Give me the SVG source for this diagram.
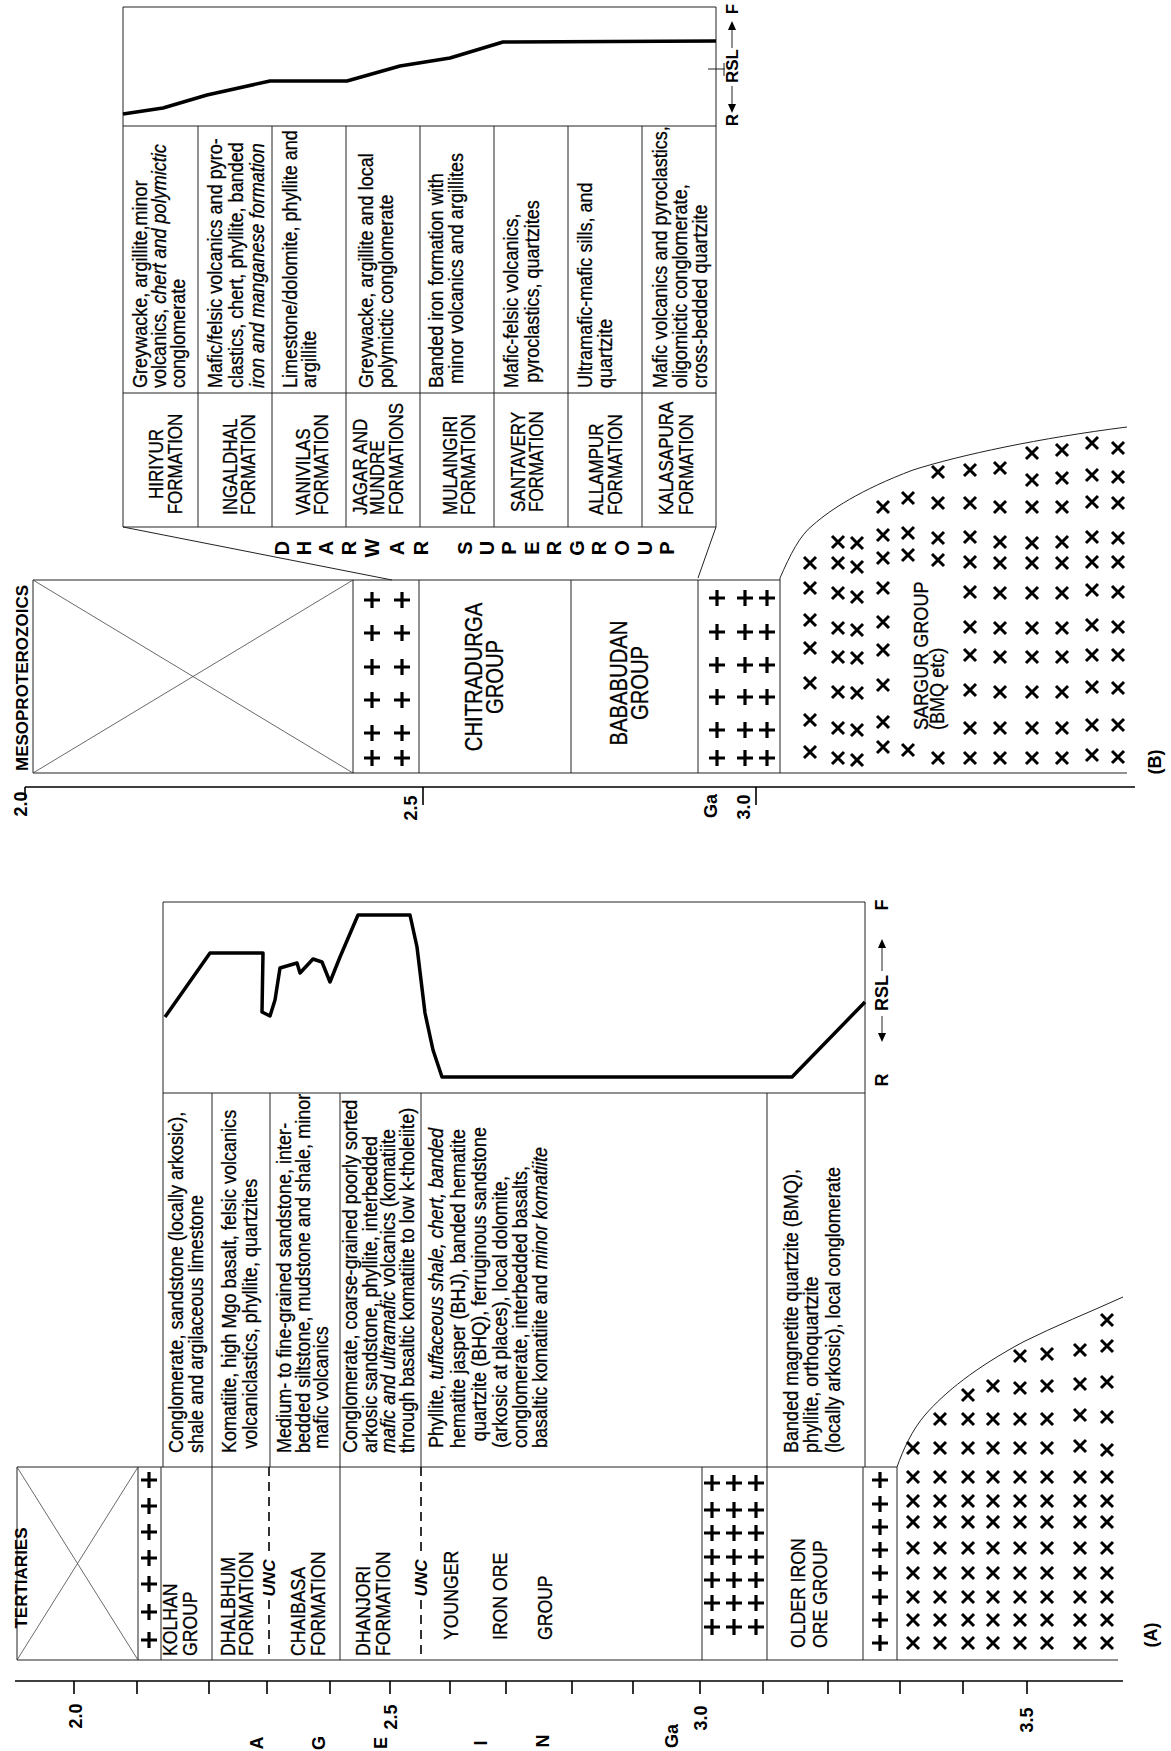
<svg xmlns="http://www.w3.org/2000/svg" width="1171" height="1751" viewBox="0 0 1171 1751">
<style>
text{font-family:"Liberation Sans",Arial,sans-serif;fill:#000}
.d{font-size:21px;stroke:#000;stroke-width:0.3}
.g{font-size:23px;stroke:#000;stroke-width:0.3}
.b{font-weight:bold;font-size:17px}
.bl{font-weight:bold;font-size:18px}
.sg{font-weight:bold;font-size:20px}
.ln{stroke:#222;stroke-width:1;fill:none}
.thin{stroke:#444;stroke-width:0.8;fill:none}
.ax{stroke:#000;stroke-width:1.6;fill:none}
.rsl{stroke:#000;stroke-width:3.5;fill:none;stroke-linejoin:round}
.dash{stroke:#000;stroke-width:1.6;stroke-dasharray:9 6;fill:none}
</style>
<defs>
<path id="p" d="M-8,0H8M0,-8V8" stroke="#000" stroke-width="3.2"/>
<path id="x" d="M-6,-6L6,6M-6,6L6,-6" stroke="#000" stroke-width="3"/>
</defs>
<rect width="1171" height="1751" fill="#fff"/>

<!-- ================= PANEL B ================= -->
<g id="panelB">
<g id="B-table-lines">
<path class="ln" d="M123,7H716M123,126H716M123,393H716M123,527H716M123,7V527M716,7V527"/>
<path class="ln" d="M198,126V527M272,126V527M346,126V527M420,126V527M494,126V527M568,126V527M642,126V527"/>
</g>
<g id="B-rsl">
<path class="rsl" d="M123,114L163,108L207,95L270,81L347,81L400,66L450,58L503,42L716,41"/>
<path class="ln" d="M708,69H725M724,63V76"/>
<text class="b" transform="translate(738,120) rotate(-90)" text-anchor="middle" font-size="16">R</text>
<polygon points="728,104 736,104 732,113"/>
<path class="ln" d="M732,104V86"/>
<text class="b" transform="translate(738,66) rotate(-90)" text-anchor="middle" font-size="16">RSL</text>
<path class="ln" d="M732,48V30"/>
<polygon points="728,30 736,30 732,21"/>
<text class="b" transform="translate(738,9) rotate(-90)" text-anchor="middle" font-size="16">F</text>
</g>
<g id="B-desc">
<text class="d" transform="translate(147,388) rotate(-90) scale(.86,1)"><tspan x="0" y="0">Greywacke, argillite,minor</tspan><tspan x="0" y="19.5">volcanics, <tspan font-style="italic">chert and polymictic</tspan></tspan><tspan x="0" y="38.5">conglomerate</tspan></text>
<text class="d" transform="translate(222,388) rotate(-90) scale(.86,1)"><tspan x="0" y="0">Mafic/felsic volcanics and pyro-</tspan><tspan x="0" y="21">clastics, chert, phyllite, banded</tspan><tspan x="0" y="42" font-style="italic">iron and manganese formation</tspan></text>
<text class="d" transform="translate(297,388) rotate(-90) scale(.86,1)"><tspan x="0" y="0">Limestone/dolomite, phyllite and</tspan><tspan x="0" y="19.5">argillite</tspan></text>
<text class="d" transform="translate(373,388) rotate(-90) scale(.86,1)"><tspan x="0" y="0">Greywacke, argillite and local</tspan><tspan x="0" y="20">polymictic conglomerate</tspan></text>
<text class="d" transform="translate(443,388) rotate(-90) scale(.86,1)"><tspan x="0" y="0">Banded iron formation with</tspan><tspan x="5" y="20">minor volcanics and argillites</tspan></text>
<text class="d" transform="translate(518,388) rotate(-90) scale(.86,1)"><tspan x="0" y="0">Mafic-felsic volcanics,</tspan><tspan x="6" y="21">pyroclastics, quartzites</tspan></text>
<text class="d" transform="translate(592,388) rotate(-90) scale(.86,1)"><tspan x="0" y="0">Ultramafic-mafic sills, and</tspan><tspan x="0" y="20">quartzite</tspan></text>
<text class="d" transform="translate(667,388) rotate(-90) scale(.86,1)"><tspan x="0" y="0">Mafic volcanics and pyroclastics,</tspan><tspan x="0" y="20.5">oligomictic conglomerate,</tspan><tspan x="0" y="40">cross-bedded quartzite</tspan></text>
</g>
<g id="B-names">
<text class="d" transform="translate(163,464) rotate(-90) scale(.81,1)" text-anchor="middle"><tspan x="0" y="0">HIRIYUR</tspan><tspan x="0" y="19">FORMATION</tspan></text>
<text class="d" transform="translate(237,515) rotate(-90) scale(.81,1)"><tspan x="0" y="0">INGALDHAL</tspan><tspan x="0" y="18">FORMATION</tspan></text>
<text class="d" transform="translate(310,515) rotate(-90) scale(.81,1)"><tspan x="0" y="0">VANIVILAS</tspan><tspan x="0" y="18">FORMATION</tspan></text>
<text class="d" transform="translate(367,515) rotate(-90) scale(.81,1)"><tspan x="0" y="0">JAGAR AND</tspan><tspan x="0" y="17">MUNDRE</tspan><tspan x="0" y="36">FORMATIONS</tspan></text>
<text class="d" transform="translate(457,515) rotate(-90) scale(.81,1)"><tspan x="0" y="0">MULAINGIRI</tspan><tspan x="0" y="18">FORMATION</tspan></text>
<text class="d" transform="translate(525,512) rotate(-90) scale(.81,1)"><tspan x="0" y="0">SANTAVERY</tspan><tspan x="0" y="18">FORMATION</tspan></text>
<text class="d" transform="translate(603,515) rotate(-90) scale(.81,1)"><tspan x="0" y="0">ALLAMPUR</tspan><tspan x="0" y="19">FORMATION</tspan></text>
<text class="d" transform="translate(673,515) rotate(-90) scale(.81,1)"><tspan x="0" y="0">KALASAPURA</tspan><tspan x="0" y="20">FORMATION</tspan></text>
</g>
<g id="B-supergroup">
<text class="sg" transform="translate(289,548) rotate(-90)" text-anchor="middle">D</text>
<text class="sg" transform="translate(311,548) rotate(-90)" text-anchor="middle">H</text>
<text class="sg" transform="translate(333,548) rotate(-90)" text-anchor="middle">A</text>
<text class="sg" transform="translate(356,548) rotate(-90)" text-anchor="middle">R</text>
<text class="sg" transform="translate(379,548) rotate(-90)" text-anchor="middle">W</text>
<text class="sg" transform="translate(404,548) rotate(-90)" text-anchor="middle">A</text>
<text class="sg" transform="translate(428,548) rotate(-90)" text-anchor="middle">R</text>
<text class="sg" transform="translate(472,548) rotate(-90)" text-anchor="middle">S</text>
<text class="sg" transform="translate(494,548) rotate(-90)" text-anchor="middle">U</text>
<text class="sg" transform="translate(516,548) rotate(-90)" text-anchor="middle">P</text>
<text class="sg" transform="translate(539,548) rotate(-90)" text-anchor="middle">E</text>
<text class="sg" transform="translate(561,548) rotate(-90)" text-anchor="middle">R</text>
<text class="sg" transform="translate(584,548) rotate(-90)" text-anchor="middle">G</text>
<text class="sg" transform="translate(606,548) rotate(-90)" text-anchor="middle">R</text>
<text class="sg" transform="translate(629,548) rotate(-90)" text-anchor="middle">O</text>
<text class="sg" transform="translate(652,548) rotate(-90)" text-anchor="middle">U</text>
<text class="sg" transform="translate(674,548) rotate(-90)" text-anchor="middle">P</text>
</g>
<g id="B-connectors">
<path class="ln" d="M123,527L392,580M716,527L698,578"/>
</g>
<g id="B-groups">
<path class="ln" d="M33,580H780M33,773H1127M33,580V773M353,580V773M419,580V773M571,580V773M698,580V773M780,578V773"/>
<path class="thin" d="M33,580L353,773M33,773L353,580"/>
<path class="ln" d="M780,578C790,555 800,535 813,525C830,510 860,490 913,470C960,455 1040,438 1127,427"/>
<text class="b" transform="translate(28,678) rotate(-90)" text-anchor="middle">MESOPROTEROZOICS</text>
<text class="g" transform="translate(482,677) rotate(-90) scale(.88,1)" text-anchor="middle"><tspan x="0" y="0">CHITRADURGA</tspan><tspan x="0" y="21">GROUP</tspan></text>
<text class="g" transform="translate(627,683) rotate(-90) scale(.88,1)" text-anchor="middle"><tspan x="0" y="0">BABABUDAN</tspan><tspan x="0" y="21">GROUP</tspan></text>
<text class="d" transform="translate(928,730) rotate(-90) scale(.86,1)"><tspan x="0" y="0">SARGUR GROUP</tspan><tspan x="0" y="16">(BMQ etc)</tspan></text>
</g>
<g id="B-plus">
<use href="#p" x="372" y="600"/><use href="#p" x="402" y="600"/>
<use href="#p" x="372" y="633"/><use href="#p" x="402" y="633"/>
<use href="#p" x="372" y="667"/><use href="#p" x="402" y="667"/>
<use href="#p" x="372" y="700"/><use href="#p" x="402" y="700"/>
<use href="#p" x="372" y="733"/><use href="#p" x="402" y="733"/>
<use href="#p" x="372" y="758"/><use href="#p" x="402" y="758"/>
<use href="#p" x="717" y="598"/><use href="#p" x="745" y="598"/><use href="#p" x="767" y="598"/>
<use href="#p" x="717" y="632"/><use href="#p" x="745" y="632"/><use href="#p" x="767" y="632"/>
<use href="#p" x="717" y="665"/><use href="#p" x="745" y="665"/><use href="#p" x="767" y="665"/>
<use href="#p" x="717" y="697"/><use href="#p" x="745" y="697"/><use href="#p" x="767" y="697"/>
<use href="#p" x="717" y="730"/><use href="#p" x="745" y="730"/><use href="#p" x="767" y="730"/>
<use href="#p" x="717" y="758"/><use href="#p" x="745" y="758"/><use href="#p" x="767" y="758"/>
</g>
<g id="B-cross">
<use href="#x" x="810" y="563"/><use href="#x" x="810" y="588"/><use href="#x" x="810" y="620"/><use href="#x" x="810" y="648"/><use href="#x" x="810" y="683"/><use href="#x" x="810" y="720"/><use href="#x" x="810" y="752"/>
<use href="#x" x="838" y="542"/><use href="#x" x="838" y="563"/><use href="#x" x="838" y="593"/><use href="#x" x="838" y="628"/><use href="#x" x="838" y="657"/><use href="#x" x="838" y="692"/><use href="#x" x="838" y="728"/><use href="#x" x="838" y="758"/>
<use href="#x" x="857" y="543"/><use href="#x" x="857" y="567"/><use href="#x" x="857" y="597"/><use href="#x" x="857" y="630"/><use href="#x" x="857" y="658"/><use href="#x" x="857" y="693"/><use href="#x" x="857" y="730"/><use href="#x" x="857" y="760"/>
<use href="#x" x="883" y="507"/><use href="#x" x="883" y="535"/><use href="#x" x="883" y="558"/><use href="#x" x="883" y="588"/><use href="#x" x="883" y="622"/><use href="#x" x="883" y="650"/><use href="#x" x="883" y="685"/><use href="#x" x="883" y="722"/><use href="#x" x="883" y="747"/>
<use href="#x" x="908" y="498"/><use href="#x" x="908" y="533"/><use href="#x" x="908" y="555"/><use href="#x" x="908" y="750"/>
<use href="#x" x="938" y="472"/><use href="#x" x="938" y="503"/><use href="#x" x="938" y="538"/><use href="#x" x="938" y="560"/><use href="#x" x="938" y="758"/>
<use href="#x" x="970" y="470"/><use href="#x" x="970" y="503"/><use href="#x" x="970" y="537"/><use href="#x" x="970" y="562"/><use href="#x" x="970" y="592"/><use href="#x" x="970" y="627"/><use href="#x" x="970" y="655"/><use href="#x" x="970" y="690"/><use href="#x" x="970" y="728"/><use href="#x" x="970" y="758"/>
<use href="#x" x="1000" y="468"/><use href="#x" x="1000" y="507"/><use href="#x" x="1000" y="542"/><use href="#x" x="1000" y="563"/><use href="#x" x="1000" y="593"/><use href="#x" x="1000" y="628"/><use href="#x" x="1000" y="657"/><use href="#x" x="1000" y="692"/><use href="#x" x="1000" y="728"/><use href="#x" x="1000" y="758"/>
<use href="#x" x="1032" y="453"/><use href="#x" x="1032" y="480"/><use href="#x" x="1032" y="507"/><use href="#x" x="1032" y="543"/><use href="#x" x="1032" y="563"/><use href="#x" x="1032" y="593"/><use href="#x" x="1032" y="628"/><use href="#x" x="1032" y="657"/><use href="#x" x="1032" y="692"/><use href="#x" x="1032" y="728"/><use href="#x" x="1032" y="758"/>
<use href="#x" x="1062" y="450"/><use href="#x" x="1062" y="478"/><use href="#x" x="1062" y="507"/><use href="#x" x="1062" y="542"/><use href="#x" x="1062" y="563"/><use href="#x" x="1062" y="593"/><use href="#x" x="1062" y="628"/><use href="#x" x="1062" y="657"/><use href="#x" x="1062" y="692"/><use href="#x" x="1062" y="728"/><use href="#x" x="1062" y="758"/>
<use href="#x" x="1092" y="443"/><use href="#x" x="1092" y="475"/><use href="#x" x="1092" y="502"/><use href="#x" x="1092" y="537"/><use href="#x" x="1092" y="562"/><use href="#x" x="1092" y="590"/><use href="#x" x="1092" y="625"/><use href="#x" x="1092" y="655"/><use href="#x" x="1092" y="687"/><use href="#x" x="1092" y="725"/><use href="#x" x="1092" y="755"/>
<use href="#x" x="1118" y="448"/><use href="#x" x="1118" y="477"/><use href="#x" x="1118" y="503"/><use href="#x" x="1118" y="538"/><use href="#x" x="1118" y="562"/><use href="#x" x="1118" y="592"/><use href="#x" x="1118" y="627"/><use href="#x" x="1118" y="655"/><use href="#x" x="1118" y="688"/><use href="#x" x="1118" y="725"/><use href="#x" x="1118" y="757"/>
</g>
<g id="B-axis">
<path class="ax" d="M25,787H1135M25,787V800M423,787V805M756,787V805"/>
<text class="bl" transform="translate(27,804) rotate(-90)" text-anchor="middle">2.0</text>
<text class="bl" transform="translate(417,808) rotate(-90)" text-anchor="middle">2.5</text>
<text class="bl" transform="translate(717,806) rotate(-90)" text-anchor="middle">Ga</text>
<text class="bl" transform="translate(750,807) rotate(-90)" text-anchor="middle">3.0</text>
<text class="bl" transform="translate(1161,762) rotate(-90)" text-anchor="middle">(B)</text>
</g>
</g>

<!-- ================= PANEL A ================= -->
<g id="panelA">
<g id="A-rsl">
<path class="ln" d="M163,902H865M163,1093H865M163,902V1093M865,902V1093"/>
<path class="rsl" d="M165,1017L210,953L263,953L262,1012L270,1016L275,1000L280,968L297,963L300,973L313,959L322,962L330,982L340,957L358,915L410,915L417,947L425,1013L433,1050L442,1077L792,1077L865,1002"/>
<text class="bl" transform="translate(888,1080) rotate(-90)" text-anchor="middle">R</text>
<polygon points="878,1033 886,1033 882,1042"/>
<path class="ln" d="M882,1033V1016"/>
<text class="bl" transform="translate(888,993) rotate(-90)" text-anchor="middle">RSL</text>
<path class="ln" d="M882,971V948"/>
<polygon points="878,948 886,948 882,939"/>
<text class="bl" transform="translate(888,905) rotate(-90)" text-anchor="middle">F</text>
</g>
<g id="A-table-lines">
<path class="ln" d="M163,1093V1467M212,1093V1660M270,1093V1467M340,1093V1660M421,1093V1467M767,1093V1660M865,1093V1467"/>
<path class="ln" d="M17,1467H897M17,1660H1118M17,1467V1660M138,1467V1660M161,1467V1660M702,1467V1660M863,1467V1660M897,1467V1660"/>
<path class="thin" d="M17,1467L138,1660M17,1660L138,1467"/>
<path class="dash" d="M269,1467V1557M269,1600V1660M421,1467V1557M421,1600V1660"/>
<path class="ln" d="M897,1467C903,1450 912,1430 925,1415C945,1392 975,1368 1023,1342C1055,1326 1090,1312 1123,1297"/>
</g>
<g id="A-desc">
<text class="d" transform="translate(183,1453) rotate(-90) scale(.86,1)"><tspan x="0" y="0">Conglomerate, sandstone (locally arkosic),</tspan><tspan x="0" y="20">shale and argilaceous limestone</tspan></text>
<text class="d" transform="translate(236,1453) rotate(-90) scale(.86,1)"><tspan x="0" y="0">Komatiite, high Mgo basalt, felsic volcanics</tspan><tspan x="5" y="21">volcaniclastics, phyllite, quartzites</tspan></text>
<text class="d" transform="translate(291,1453) rotate(-90) scale(.86,1)"><tspan x="0" y="0">Medium- to fine-grained sandstone, inter-</tspan><tspan x="0" y="19">bedded siltstone, mudstone and shale, minor</tspan><tspan x="5" y="37">mafic volcanics</tspan></text>
<text class="d" transform="translate(357,1453) rotate(-90) scale(.86,1)"><tspan x="0" y="0">Conglomerate, coarse-grained poorly sorted</tspan><tspan x="0" y="20">arkosic sandstone, phyllite, interbedded</tspan><tspan x="0" y="38"><tspan font-style="italic">mafic and ultramafic</tspan> volcanics (komatiite</tspan><tspan x="0" y="57">through basaltic komatiite to low k-tholeiite)</tspan></text>
<text class="d" transform="translate(443,1448) rotate(-90) scale(.86,1)"><tspan x="0" y="0">Phyllite, <tspan font-style="italic">tuffaceous shale, chert, banded</tspan></tspan><tspan x="0" y="22">hematite jasper (BHJ), banded hematite</tspan><tspan x="8" y="43">quartzite (BHQ), ferruginous sandstone</tspan><tspan x="0" y="64">(arkosic at places), local dolomite,</tspan><tspan x="0" y="84">conglomerate, interbedded basalts,</tspan><tspan x="0" y="104">basaltic komatiite and <tspan font-style="italic">minor komatiite</tspan></tspan></text>
<text class="d" transform="translate(798,1453) rotate(-90) scale(.86,1)"><tspan x="0" y="0">Banded magnetite quartzite (BMQ),</tspan><tspan x="0" y="20">phyllite, orthoquartzite</tspan><tspan x="0" y="42">(locally arkosic), local conglomerate</tspan></text>
</g>
<g id="A-names">
<text class="b" transform="translate(27,1578) rotate(-90)" text-anchor="middle">TERTIARIES</text>
<text class="d" transform="translate(177,1656) rotate(-90) scale(.84,1)"><tspan x="0" y="0">KOLHAN</tspan><tspan x="0" y="20">GROUP</tspan></text>
<text class="d" transform="translate(235,1656) rotate(-90) scale(.84,1)"><tspan x="0" y="0">DHALBHUM</tspan><tspan x="0" y="18">FORMATION</tspan></text>
<text class="d" transform="translate(305,1656) rotate(-90) scale(.84,1)"><tspan x="0" y="0">CHAIBASA</tspan><tspan x="0" y="20">FORMATION</tspan></text>
<text class="d" transform="translate(370,1656) rotate(-90) scale(.84,1)"><tspan x="0" y="0">DHANJORI</tspan><tspan x="0" y="20">FORMATION</tspan></text>
<text class="d" transform="translate(458,1640) rotate(-90) scale(.84,1)"><tspan x="0" y="0">YOUNGER</tspan><tspan x="0" y="49">IRON ORE</tspan><tspan x="0" y="94">GROUP</tspan></text>
<text class="d" transform="translate(805,1648) rotate(-90) scale(.84,1)"><tspan x="0" y="0">OLDER IRON</tspan><tspan x="0" y="22">ORE GROUP</tspan></text>
<text class="b" transform="translate(275,1578) rotate(-90)" text-anchor="middle" font-style="italic" font-size="16">UNC</text>
<text class="b" transform="translate(427,1578) rotate(-90)" text-anchor="middle" font-style="italic" font-size="16">UNC</text>
</g>
<g id="A-plus">
<use href="#p" x="149" y="1480"/><use href="#p" x="149" y="1506"/><use href="#p" x="149" y="1532"/><use href="#p" x="149" y="1558"/><use href="#p" x="149" y="1584"/><use href="#p" x="149" y="1612"/><use href="#p" x="149" y="1640"/>
<use href="#p" x="712" y="1483"/><use href="#p" x="734" y="1483"/><use href="#p" x="756" y="1483"/>
<use href="#p" x="712" y="1510"/><use href="#p" x="734" y="1510"/><use href="#p" x="756" y="1510"/>
<use href="#p" x="712" y="1533"/><use href="#p" x="734" y="1533"/><use href="#p" x="756" y="1533"/>
<use href="#p" x="712" y="1557"/><use href="#p" x="734" y="1557"/><use href="#p" x="756" y="1557"/>
<use href="#p" x="712" y="1580"/><use href="#p" x="734" y="1580"/><use href="#p" x="756" y="1580"/>
<use href="#p" x="712" y="1603"/><use href="#p" x="734" y="1603"/><use href="#p" x="756" y="1603"/>
<use href="#p" x="712" y="1627"/><use href="#p" x="734" y="1627"/><use href="#p" x="756" y="1627"/>
<use href="#p" x="880" y="1480"/><use href="#p" x="880" y="1504"/><use href="#p" x="880" y="1527"/><use href="#p" x="880" y="1550"/><use href="#p" x="880" y="1573"/><use href="#p" x="880" y="1597"/><use href="#p" x="880" y="1620"/><use href="#p" x="880" y="1643"/>
</g>
<g id="A-cross">
<use href="#x" x="913" y="1643"/><use href="#x" x="913" y="1620"/><use href="#x" x="913" y="1597"/><use href="#x" x="913" y="1573"/><use href="#x" x="913" y="1548"/><use href="#x" x="913" y="1522"/><use href="#x" x="913" y="1501"/><use href="#x" x="913" y="1477"/><use href="#x" x="913" y="1448"/>
<use href="#x" x="940" y="1643"/><use href="#x" x="940" y="1620"/><use href="#x" x="940" y="1597"/><use href="#x" x="940" y="1573"/><use href="#x" x="940" y="1548"/><use href="#x" x="940" y="1522"/><use href="#x" x="940" y="1501"/><use href="#x" x="940" y="1477"/><use href="#x" x="940" y="1448"/><use href="#x" x="940" y="1419"/>
<use href="#x" x="968" y="1643"/><use href="#x" x="968" y="1620"/><use href="#x" x="968" y="1597"/><use href="#x" x="968" y="1573"/><use href="#x" x="968" y="1548"/><use href="#x" x="968" y="1522"/><use href="#x" x="968" y="1501"/><use href="#x" x="968" y="1477"/><use href="#x" x="968" y="1448"/><use href="#x" x="968" y="1419"/><use href="#x" x="968" y="1395"/>
<use href="#x" x="993" y="1643"/><use href="#x" x="993" y="1620"/><use href="#x" x="993" y="1597"/><use href="#x" x="993" y="1573"/><use href="#x" x="993" y="1548"/><use href="#x" x="993" y="1522"/><use href="#x" x="993" y="1501"/><use href="#x" x="993" y="1477"/><use href="#x" x="993" y="1448"/><use href="#x" x="993" y="1419"/><use href="#x" x="993" y="1386"/>
<use href="#x" x="1020" y="1643"/><use href="#x" x="1020" y="1620"/><use href="#x" x="1020" y="1597"/><use href="#x" x="1020" y="1573"/><use href="#x" x="1020" y="1548"/><use href="#x" x="1020" y="1522"/><use href="#x" x="1020" y="1501"/><use href="#x" x="1020" y="1477"/><use href="#x" x="1020" y="1448"/><use href="#x" x="1020" y="1419"/><use href="#x" x="1020" y="1388"/><use href="#x" x="1020" y="1356"/>
<use href="#x" x="1047" y="1643"/><use href="#x" x="1047" y="1620"/><use href="#x" x="1047" y="1597"/><use href="#x" x="1047" y="1573"/><use href="#x" x="1047" y="1548"/><use href="#x" x="1047" y="1522"/><use href="#x" x="1047" y="1501"/><use href="#x" x="1047" y="1477"/><use href="#x" x="1047" y="1448"/><use href="#x" x="1047" y="1419"/><use href="#x" x="1047" y="1386"/><use href="#x" x="1047" y="1354"/>
<use href="#x" x="1080" y="1643"/><use href="#x" x="1080" y="1620"/><use href="#x" x="1080" y="1597"/><use href="#x" x="1080" y="1573"/><use href="#x" x="1080" y="1548"/><use href="#x" x="1080" y="1522"/><use href="#x" x="1080" y="1501"/><use href="#x" x="1080" y="1477"/><use href="#x" x="1080" y="1446"/><use href="#x" x="1080" y="1415"/><use href="#x" x="1080" y="1384"/><use href="#x" x="1080" y="1350"/>
<use href="#x" x="1107" y="1643"/><use href="#x" x="1107" y="1620"/><use href="#x" x="1107" y="1597"/><use href="#x" x="1107" y="1573"/><use href="#x" x="1107" y="1548"/><use href="#x" x="1107" y="1522"/><use href="#x" x="1107" y="1501"/><use href="#x" x="1107" y="1477"/><use href="#x" x="1107" y="1450"/><use href="#x" x="1107" y="1417"/><use href="#x" x="1107" y="1382"/><use href="#x" x="1107" y="1346"/><use href="#x" x="1107" y="1320"/>
</g>
<g id="A-axis">
<path class="ax" d="M15,1681H1123M74,1681V1694M137,1681V1694M209,1681V1694M267,1681V1694M330,1681V1694M390,1681V1694M450,1681V1694M506,1681V1694M572,1681V1694M633,1681V1694M700,1681V1694M763,1681V1694M828,1681V1694M900,1681V1694M963,1681V1694M1027,1681V1694"/>
<text class="bl" transform="translate(82,1716) rotate(-90)" text-anchor="middle">2.0</text>
<text class="bl" transform="translate(397,1717) rotate(-90)" text-anchor="middle">2.5</text>
<text class="bl" transform="translate(707,1718) rotate(-90)" text-anchor="middle">3.0</text>
<text class="bl" transform="translate(1033,1720) rotate(-90)" text-anchor="middle">3.5</text>
<text class="bl" transform="translate(263,1743) rotate(-90)" text-anchor="middle">A</text>
<text class="bl" transform="translate(325,1743) rotate(-90)" text-anchor="middle">G</text>
<text class="bl" transform="translate(387,1743) rotate(-90)" text-anchor="middle">E</text>
<text class="bl" transform="translate(487,1743) rotate(-90)" text-anchor="middle">I</text>
<text class="bl" transform="translate(549,1741) rotate(-90)" text-anchor="middle">N</text>
<text class="bl" transform="translate(678,1736) rotate(-90)" text-anchor="middle">Ga</text>
<text class="bl" transform="translate(1157,1635) rotate(-90)" text-anchor="middle">(A)</text>
</g>
</g>
</svg>
